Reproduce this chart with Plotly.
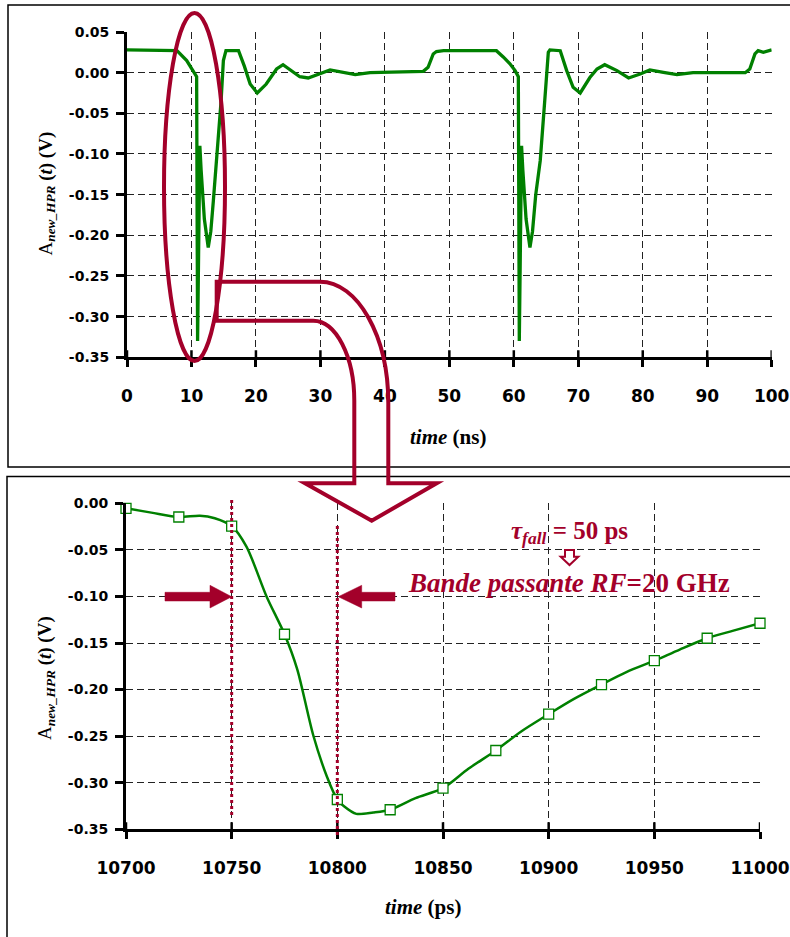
import plotly.graph_objects as go

# ---------------- data ----------------
# top panel : A_new_HPR(t) over 0..100 ns
top_t = [0, 2, 5, 7.75, 9.26, 10.0, 10.8, 10.95, 11.3, 11.5, 12.0, 12.6, 13.0, 13.4,
         14.2, 14.6, 14.95, 15.35, 17.3, 18.2, 19.1, 20.2, 21.6, 23.2, 24.2, 25.8,
         26.8, 28.1, 31.5, 35.4, 37.7, 45.96, 46.7, 47.5, 48.0, 49.1, 57.3, 58.4,
         59.4, 60.2, 60.7, 60.85, 61.2, 61.4, 61.9, 62.5, 62.9, 63.4, 64.1, 64.8,
         65.35, 65.6, 67.2, 68.2, 69.2, 70.3, 71.8, 72.9, 74.1, 76.0, 77.8, 79.6,
         81.1, 83.2, 85.3, 87.8, 95.9, 96.6, 97.4, 97.9, 98.7, 100]
top_v = [0.028, 0.028, 0.027, 0.027, 0.0148, 0.0045, -0.005, -0.33, -0.09, -0.12,
         -0.18, -0.215, -0.195, -0.157, -0.075, -0.034, 0.015, 0.027, 0.027, 0.008,
         -0.014, -0.025, -0.014, 0.0045, 0.0098, 0.0004, -0.005, -0.0065, 0.0033,
         -0.0025, 0.0, 0.0016, 0.0066, 0.023, 0.026, 0.027, 0.027, 0.019, 0.011,
         0.0025, -0.005, -0.33, -0.09, -0.12, -0.18, -0.215, -0.195, -0.15, -0.108,
         -0.034, 0.025, 0.028, 0.027, 0.0025, -0.018, -0.025, -0.006, 0.0045, 0.0098,
         0.0025, -0.0065, -0.0017, 0.0033, 0.0004, -0.0025, 0.0, 0.0, 0.0045, 0.023,
         0.027, 0.025, 0.028]

# bottom panel : zoom on the falling edge (ps)
fine_t = [10700, 10712, 10725, 10735, 10742, 10750, 10757, 10766.5, 10775, 10781,
          10788.6, 10795, 10800, 10803, 10809, 10817, 10825, 10837, 10850, 10862,
          10875, 10887, 10900, 10912, 10925, 10937, 10950, 10962, 10975, 10987, 11000]
fine_v = [-0.0054, -0.010, -0.0147, -0.0133, -0.016, -0.0244, -0.0466, -0.10, -0.1406,
          -0.178, -0.249, -0.293, -0.318, -0.325, -0.3334, -0.332, -0.329, -0.3165,
          -0.3058, -0.285, -0.2654, -0.245, -0.2264, -0.210, -0.1946, -0.181, -0.169,
          -0.157, -0.1449, -0.137, -0.1288]
mark_t = [10700, 10725, 10750, 10775, 10800, 10825, 10850, 10875, 10900, 10925,
          10950, 10975, 11000]
mark_v = [-0.0054, -0.0147, -0.0244, -0.1406, -0.318, -0.329, -0.3058, -0.2654,
          -0.2264, -0.1946, -0.169, -0.1449, -0.1288]

# tick labels
top_xticks = [0, 10, 20, 30, 40, 50, 60, 70, 80, 90, 100]
top_xlabels = ["0", "10", "20", "30", "40", "50", "60", "70", "80", "90", "100"]
top_yticks = [0.05, 0.0, -0.05, -0.10, -0.15, -0.20, -0.25, -0.30, -0.35]
top_ylabels = ["0.05", "0.00", "-0.05", "-0.10", "-0.15", "-0.20", "-0.25", "-0.30", "-0.35"]
bot_xticks = [10700, 10750, 10800, 10850, 10900, 10950, 11000]
bot_xlabels = ["10700", "10750", "10800", "10850", "10900", "10950", "11000"]
bot_yticks = [0.0, -0.05, -0.10, -0.15, -0.20, -0.25, -0.30, -0.35]
bot_ylabels = ["0.00", "-0.05", "-0.10", "-0.15", "-0.20", "-0.25", "-0.30", "-0.35"]
marker_lines = [10750, 10800]   # tau_fall limits

W, H = 790, 937
GREEN = "#008000"
RED = "#A3002A"
SERIF = "Liberation Serif"
SANS = "DejaVu Sans"


def px(x):
    return x / W


def py(y):
    return 1 - y / H


fig = go.Figure()
fig.add_trace(go.Scatter(x=top_t, y=top_v, mode="lines", xaxis="x", yaxis="y",
                         line=dict(color=GREEN, width=3.3), showlegend=False))
fig.add_trace(go.Scatter(x=fine_t, y=fine_v, mode="lines", xaxis="x2", yaxis="y2",
                         line=dict(color=GREEN, width=2.5, shape="spline", smoothing=0.8),
                         showlegend=False))
fig.add_trace(go.Scatter(x=mark_t, y=mark_v, mode="markers", xaxis="x2", yaxis="y2",
                         marker=dict(symbol="square", size=10, color="white",
                                     line=dict(color=GREEN, width=1.3)),
                         showlegend=False, cliponaxis=False))

grid = dict(showgrid=True, gridcolor="#222", gridwidth=1, griddash="7px,4px",
            zeroline=False, showline=True, linecolor="black", linewidth=3,
            ticks="outside", tickcolor="black", tickwidth=2.5, mirror=False,
            automargin=False)

fig.update_layout(
    width=W, height=H, margin=dict(l=0, r=0, t=0, b=0, pad=0, autoexpand=False),
    paper_bgcolor="white", plot_bgcolor="white", showlegend=False,
    xaxis=dict(domain=[px(127), px(771.7)], range=[0, 100], tickvals=top_xticks,
               ticktext=top_xlabels, anchor="y", ticklen=7, ticklabelstandoff=14,
               tickfont=dict(family=SANS, size=17, color="black", weight="bold"), **grid),
    yaxis=dict(domain=[py(357.3), py(32)], range=[-0.35, 0.05], tickvals=top_yticks,
               ticktext=top_ylabels, anchor="x", ticklen=8, ticklabelstandoff=4,
               tickfont=dict(family=SANS, size=14, color="black", weight="bold"), **grid),
    xaxis2=dict(domain=[px(126), px(760)], range=[10700, 11000], tickvals=bot_xticks,
                ticktext=bot_xlabels, anchor="y2", ticklen=7, ticklabelstandoff=14,
                tickfont=dict(family=SANS, size=17, color="black", weight="bold"), **grid),
    yaxis2=dict(domain=[py(829.3), py(503.3)], range=[-0.35, 0.0], tickvals=bot_yticks,
                ticktext=bot_ylabels, anchor="x2", ticklen=8, ticklabelstandoff=4,
                tickfont=dict(family=SANS, size=14, color="black", weight="bold"), **grid),
)

shapes = []
# panel frames
shapes.append(dict(type="rect", xref="paper", yref="paper", x0=px(8), x1=px(795),
                   y0=py(467), y1=py(5), line=dict(color="black", width=1.5)))
shapes.append(dict(type="rect", xref="paper", yref="paper", x0=px(7), x1=px(795),
                   y0=py(945), y1=py(476.5), line=dict(color="black", width=1.5)))
# inner half of x ticks (ticks cross the axis)
for v in top_xticks:
    shapes.append(dict(type="line", xref="x", yref="y", ysizemode="pixel", yanchor=-0.35,
                       x0=v, x1=v, y0=0, y1=7, line=dict(color="black", width=2.5)))
for v in bot_xticks:
    shapes.append(dict(type="line", xref="x2", yref="y2", ysizemode="pixel", yanchor=-0.35,
                       x0=v, x1=v, y0=0, y1=7, line=dict(color="black", width=2.5)))

# ellipse around the pulse
shapes.append(dict(type="circle", xref="paper", yref="paper", x0=px(164), x1=px(225),
                   y0=py(361), y1=py(13), line=dict(color=RED, width=4)))


def P(x, y):
    return f"{px(x):.5f},{py(y):.5f}"


uarrow = ("M" + P(216.7, 281.7) + " L" + P(320, 281.7) +
          " C" + P(357.6, 281.7) + " " + P(388.3, 336.2) + " " + P(388.3, 403) +
          " L" + P(388.3, 483.3) + " L" + P(436.7, 483.3) + " L" + P(371.7, 520.7) +
          " L" + P(305, 483.3) + " L" + P(354.3, 483.3) + " L" + P(354.3, 400.7) +
          " C" + P(354.3, 356.5) + " " + P(335.9, 320.7) + " " + P(313.3, 320.7) +
          " L" + P(216.7, 320.7) + " Z")
shapes.append(dict(type="path", xref="paper", yref="paper", path=uarrow,
                   line=dict(color=RED, width=4)))

# red dotted limits
shapes.append(dict(type="line", xref="x2", yref="paper", x0=marker_lines[0], x1=marker_lines[0],
                   y0=py(815), y1=py(499), line=dict(color=RED, width=3, dash="dot")))
shapes.append(dict(type="line", xref="x2", yref="paper", x0=marker_lines[1], x1=marker_lines[1],
                   y0=py(835), y1=py(523), line=dict(color=RED, width=3, dash="dot")))

# filled arrows
arr1 = ("M" + P(165, 592.3) + " L" + P(210, 592.3) + " L" + P(210, 585.3) + " L" + P(231.7, 596.7) +
        " L" + P(210, 608) + " L" + P(210, 601) + " L" + P(165, 601) + " Z")
arr2 = ("M" + P(395, 592.3) + " L" + P(361.7, 592.3) + " L" + P(361.7, 585.3) + " L" + P(338.3, 596.7) +
        " L" + P(361.7, 608) + " L" + P(361.7, 601) + " L" + P(395, 601) + " Z")
for a in (arr1, arr2):
    shapes.append(dict(type="path", xref="paper", yref="paper", path=a,
                       fillcolor=RED, line=dict(color=RED, width=0.5)))
# hollow down arrow
harr = ("M" + P(565, 550) + " L" + P(574, 550) + " L" + P(574, 556.7) + " L" + P(578.3, 556.7) +
        " L" + P(569.5, 565) + " L" + P(560.7, 556.7) + " L" + P(565, 556.7) + " Z")
shapes.append(dict(type="path", xref="paper", yref="paper", path=harr,
                   line=dict(color=RED, width=2)))

fig.update_layout(shapes=shapes)

ann = []
ytitle = "A<sub><i><b>new_HPR</b></i></sub> <b>(<i>t</i>) (V)</b>"
ann.append(dict(text=ytitle, xref="paper", yref="paper", x=px(46.5), y=py(194),
                textangle=-90, showarrow=False, xanchor="center", yanchor="middle",
                font=dict(family=SERIF, size=19, color="black")))
ann.append(dict(text=ytitle, xref="paper", yref="paper", x=px(46), y=py(678),
                textangle=-90, showarrow=False, xanchor="center", yanchor="middle",
                font=dict(family=SERIF, size=19, color="black")))
ann.append(dict(text="<b><i>time</i> (ns)</b>", xref="paper", yref="paper", x=px(447.5),
                y=py(437), showarrow=False, xanchor="center", yanchor="middle",
                font=dict(family=SERIF, size=21, color="black")))
ann.append(dict(text="<b><i>time</i> (ps)</b>", xref="paper", yref="paper", x=px(423),
                y=py(907), showarrow=False, xanchor="center", yanchor="middle",
                font=dict(family=SERIF, size=21, color="black")))
ann.append(dict(text="<b><i>τ</i><sub><i>fall</i></sub> = 50 ps</b>", xref="paper", yref="paper",
                x=px(569), y=py(532), showarrow=False, xanchor="center", yanchor="middle",
                font=dict(family=SERIF, size=25, color=RED)))
ann.append(dict(text="<b><i>Bande passante RF</i>=20 GHz</b>", xref="paper", yref="paper",
                x=px(569), y=py(583), showarrow=False, xanchor="center", yanchor="middle",
                font=dict(family=SERIF, size=27, color=RED)))
fig.update_layout(annotations=ann)

fig.write_html("out.html", config={"displayModeBar": False},
               post_script="document.body.style.margin='0px';")
